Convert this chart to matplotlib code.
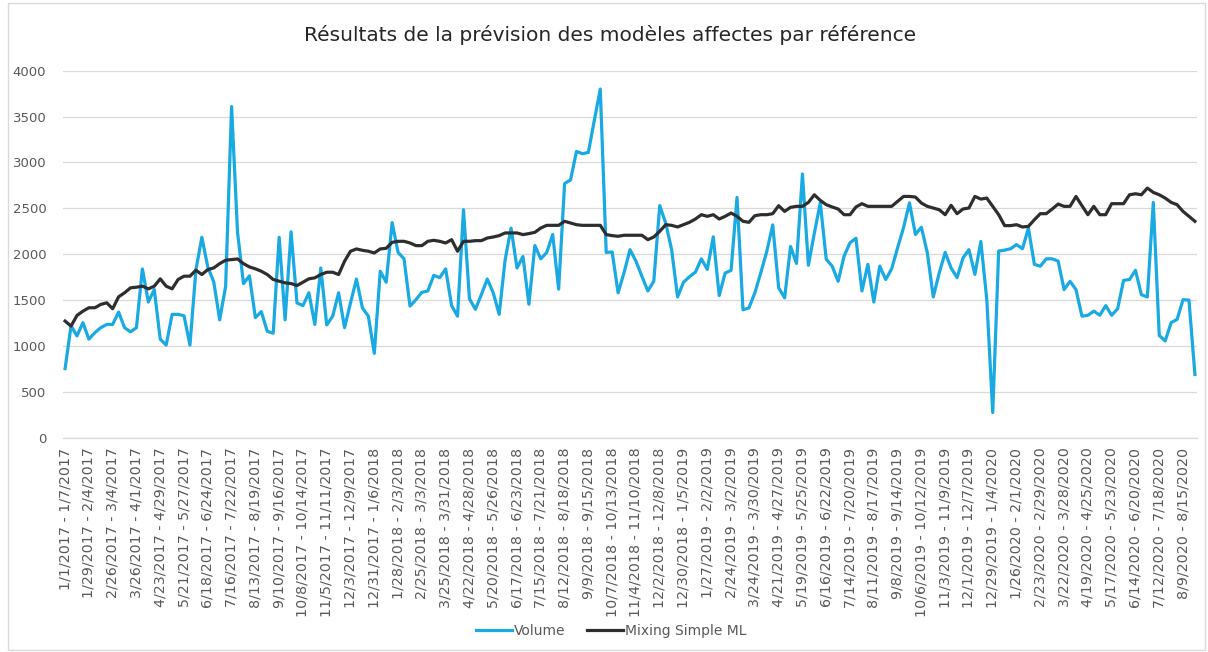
import datetime as dt
import matplotlib
matplotlib.use('Agg')
import matplotlib.pyplot as plt
from matplotlib.patches import Rectangle


###données hebdomadaires
volume = [
    754, 1220, 1110, 1255, 1075, 1145, 1200, 1235, 1235, 1370,
    1200, 1155, 1200, 1840, 1480, 1615, 1075, 1010, 1345, 1345,
    1330, 1010, 1830, 2185, 1860, 1700, 1285, 1650, 3610, 2240,
    1680, 1765, 1310, 1375, 1160, 1140, 2185, 1285, 2245, 1470,
    1440, 1580, 1235, 1850, 1230, 1325, 1580, 1200, 1470, 1730,
    1415, 1325, 920, 1815, 1695, 2345, 2020, 1950, 1435, 1505,
    1585, 1600, 1770, 1745, 1840, 1440, 1325, 2485, 1515, 1400,
    1560, 1730, 1580, 1345, 1940, 2285, 1850, 1975, 1455, 2095,
    1950, 2020, 2215, 1620, 2770, 2810, 3120, 3095, 3110, 3460,
    3800, 2020, 2025, 1580, 1800, 2050, 1925, 1760, 1600, 1705,
    2530, 2340, 2050, 1535, 1695, 1755, 1805, 1950, 1835, 2190,
    1550, 1795, 1825, 2620, 1395, 1415, 1580, 1800, 2030, 2320,
    1635, 1525, 2085, 1900, 2875, 1880, 2230, 2560, 1945, 1870,
    1705, 1980, 2125, 2175, 1600, 1890, 1480, 1870, 1725, 1840,
    2070, 2290, 2560, 2215, 2295, 2015, 1535, 1795, 2020, 1850,
    1745, 1960, 2050, 1780, 2140, 1505, 275, 2035, 2045, 2060,
    2105, 2060, 2285, 1890, 1870, 1950, 1950, 1925, 1615, 1705,
    1615, 1325, 1335, 1380, 1335, 1440, 1335, 1405, 1715, 1725,
    1825, 1560, 1535, 2565, 1115, 1055, 1255, 1290, 1505, 1500,
    690,
]

mixing = [
    1272, 1217, 1333, 1380, 1417, 1417, 1453, 1471, 1406, 1536,
    1580, 1634, 1641, 1652, 1623, 1652, 1732, 1652, 1623, 1725,
    1761, 1761, 1826, 1779, 1833, 1851, 1898, 1935, 1942, 1949,
    1898, 1862, 1841, 1815, 1779, 1725, 1706, 1688, 1681, 1659,
    1696, 1732, 1743, 1779, 1804, 1804, 1779, 1924, 2033, 2058,
    2043, 2033, 2014, 2058, 2065, 2130, 2141, 2141, 2123, 2094,
    2094, 2141, 2152, 2141, 2123, 2159, 2033, 2141, 2141, 2148,
    2148, 2177, 2188, 2203, 2232, 2232, 2232, 2214, 2225, 2239,
    2286, 2315, 2315, 2315, 2359, 2341, 2322, 2315, 2315, 2315,
    2315, 2214, 2203, 2196, 2207, 2207, 2207, 2207, 2159, 2188,
    2250, 2322, 2315, 2297, 2322, 2348, 2384, 2431, 2413, 2431,
    2384, 2413, 2449, 2413, 2359, 2348, 2420, 2431, 2431, 2442,
    2529, 2467, 2511, 2522, 2522, 2565, 2648, 2587, 2540, 2515,
    2493, 2431, 2431, 2515, 2551, 2522, 2522, 2522, 2522, 2522,
    2576, 2630, 2630, 2623, 2558, 2522, 2504, 2485, 2431, 2533,
    2442, 2493, 2504, 2630, 2601, 2612, 2522, 2431, 2312, 2312,
    2322, 2297, 2304, 2376, 2442, 2442, 2493, 2547, 2522, 2522,
    2630, 2529, 2431, 2522, 2431, 2431, 2551, 2551, 2551, 2648,
    2659, 2648, 2721, 2674, 2648, 2612, 2565, 2540, 2467, 2413,
    2359,
]

###libellés des semaines (une étiquette toutes les 4 semaines)
debut = dt.date(2017, 1, 1)
semaines = [debut + dt.timedelta(weeks=k) for k in range(len(volume))]


def fmt(d):
    return f"{d.month}/{d.day}/{d.year}"


etiquettes = [f"{fmt(d)} - {fmt(d + dt.timedelta(days=6))}" for d in semaines]
pas = 4
y_ticks = [0, 500, 1000, 1500, 2000, 2500, 3000, 3500, 4000]

gris = '#595959'

fig = plt.figure(figsize=(12.08, 6.52), dpi=100)
fig.patches.append(Rectangle((8 / 1208, 2 / 652), 1197 / 1208, 647 / 652,
                             transform=fig.transFigure, fill=False,
                             edgecolor='#d9d9d9', linewidth=1))

ax1 = fig.add_axes([63 / 1208, 1 - 437.8 / 652, 1134 / 1208, 367.1 / 652])

x = list(range(len(volume)))
ax1.plot(x, volume, color='#19a9e3', linewidth=2.3, label='Volume',
         solid_joinstyle='round')
ax1.plot(x, mixing, color='#2e2e2e', linewidth=2.3, label='Mixing Simple ML',
         solid_joinstyle='round')

ax1.set_xlim(-0.35, len(volume) - 1 + 0.35)
ax1.set_ylim(0, 4000)
ax1.set_yticks(y_ticks)
ax1.set_xticks(x[::pas])
ax1.set_xticklabels(etiquettes[::pas], rotation=90, fontsize=10.3, color=gris)
ax1.tick_params(axis='y', length=0, pad=12, labelsize=9.5, labelcolor=gris)
ax1.tick_params(axis='x', length=0, pad=7)

ax1.grid(axis='y', color='#d9d9d9', linewidth=0.9)
ax1.set_axisbelow(True)
for s in ['top', 'right', 'left']:
    ax1.spines[s].set_visible(False)
ax1.spines['bottom'].set_color('#d9d9d9')
ax1.spines['bottom'].set_linewidth(0.9)

fig.text(0.505, 1 - 35 / 652, 'Résultats de la prévision des modèles affectes par référence',
         ha='center', va='center', fontsize=14.5, color='#262626')

fig.legend(loc='center', bbox_to_anchor=(0.506, 1 - 631 / 652), ncol=2,
           frameon=False, fontsize=10, labelcolor=gris, handlelength=2.6,
           handletextpad=0.1, columnspacing=1.6)

plt.savefig('out.png', dpi=100)
